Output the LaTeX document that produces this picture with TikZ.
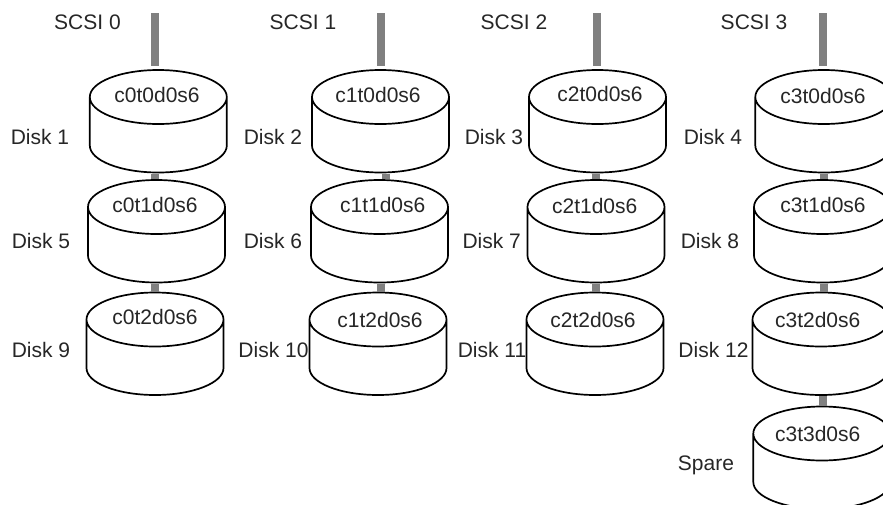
\documentclass[tikz,border=0pt]{standalone}
\usepackage{fontspec}
\setmainfont{Liberation Sans}
\tikzset{
  x=1pt,y=-1pt,
  disk/.style={draw=black,fill=white,line width=1.7pt,line join=round},
  bus/.style={draw=black!50,line width=8pt},
  lbl/.style={inner sep=0pt,text height=15pt,text depth=0pt,text=black!85,font=\fontsize{21}{24}\selectfont},
}
% name, centre x, top y, text x, text y, text
\newcommand{\diskat}[6]{%
  \path[disk] (#2-68.5,#3+27) -- (#2-68.5,#3+75.5)
     arc[start angle=180,end angle=0,x radius=68.5,y radius=27] -- (#2+68.5,#3+27)
     arc[start angle=0,end angle=180,x radius=68.5,y radius=27]
     arc[start angle=180,end angle=360,x radius=68.5,y radius=27];
  \node[lbl] (#1) at (#4,#5) {#6};
  \coordinate (#1-top) at (#2,#3-1);
  \coordinate (#1-bot) at (#2,#3+103.5);
}
\newcommand{\busbar}[3]{\draw[bus] (#1,0 |- #2) -- (#1,0 |- #3);}
\begin{document}
\begin{tikzpicture}
\useasboundingbox (0,0) rectangle (883,504);
\diskat{a0}{158.3}{70}{157}{95}{c0t0d0s6}
\diskat{a1}{156.5}{180}{155}{205}{c0t1d0s6}
\diskat{a2}{155}{292.5}{155}{317}{c0t2d0s6}
\diskat{b0}{380.5}{70}{378}{95}{c1t0d0s6}
\diskat{b1}{379.5}{180}{382.7}{205}{c1t1d0s6}
\diskat{b2}{378}{292.5}{380}{320}{c1t2d0s6}
\diskat{c0}{597.5}{70}{600}{94}{c2t0d0s6}
\diskat{c1}{596}{180}{594.7}{206}{c2t1d0s6}
\diskat{c2}{595}{292.5}{593}{320}{c2t2d0s6}
\diskat{d0}{823.8}{70}{823}{96}{c3t0d0s6}
\diskat{d1}{822.5}{180}{823}{205}{c3t1d0s6}
\diskat{d2}{821}{292.5}{817.7}{320}{c3t2d0s6}
\diskat{d3}{821.8}{406.5}{817.7}{434}{c3t3d0s6}
\coordinate (a-in) at (154.7,13);
\coordinate (b-in) at (381,13);
\coordinate (c-in) at (596.7,13);
\coordinate (d-in) at (823,13);
\coordinate (a-end) at (154.7,66);
\coordinate (b-end) at (381,66);
\coordinate (c-end) at (596.7,66);
\coordinate (d-end) at (823,66);
\busbar{154.7}{a-in}{a-end}
\busbar{381}{b-in}{b-end}
\busbar{596.7}{c-in}{c-end}
\busbar{823}{d-in}{d-end}
\busbar{154.7}{a0-bot}{a1-top}
\busbar{154.5}{a1-bot}{a2-top}
\busbar{385.7}{b0-bot}{b1-top}
\busbar{380.7}{b1-bot}{b2-top}
\busbar{596}{c0-bot}{c1-top}
\busbar{596}{c1-bot}{c2-top}
\busbar{824}{d0-bot}{d1-top}
\busbar{823.5}{d1-bot}{d2-top}
\busbar{823}{d2-bot}{d3-top}
\foreach \n/\x/\y/\t in {s0/87.5/22/SCSI 0,s1/303/22/SCSI 1,s2/514/22/SCSI 2,s3/754/22/SCSI 3,
  l1/40/136.7/Disk 1,l2/273/136.7/Disk 2,l3/494/136.7/Disk 3,l4/713/136.7/Disk 4,
  l5/41/240.7/Disk 5,l6/273/240.7/Disk 6,l7/491.7/240.7/Disk 7,l8/710/240.7/Disk 8,
  l9/41/349.5/Disk 9,l10/273.5/350/Disk 10,l11/492/350/Disk 11,l12/713.5/350/Disk 12,
  l13/706/462.7/Spare}
  \node[lbl] (\n) at (\x,\y) {\t};
\end{tikzpicture}
\end{document}
